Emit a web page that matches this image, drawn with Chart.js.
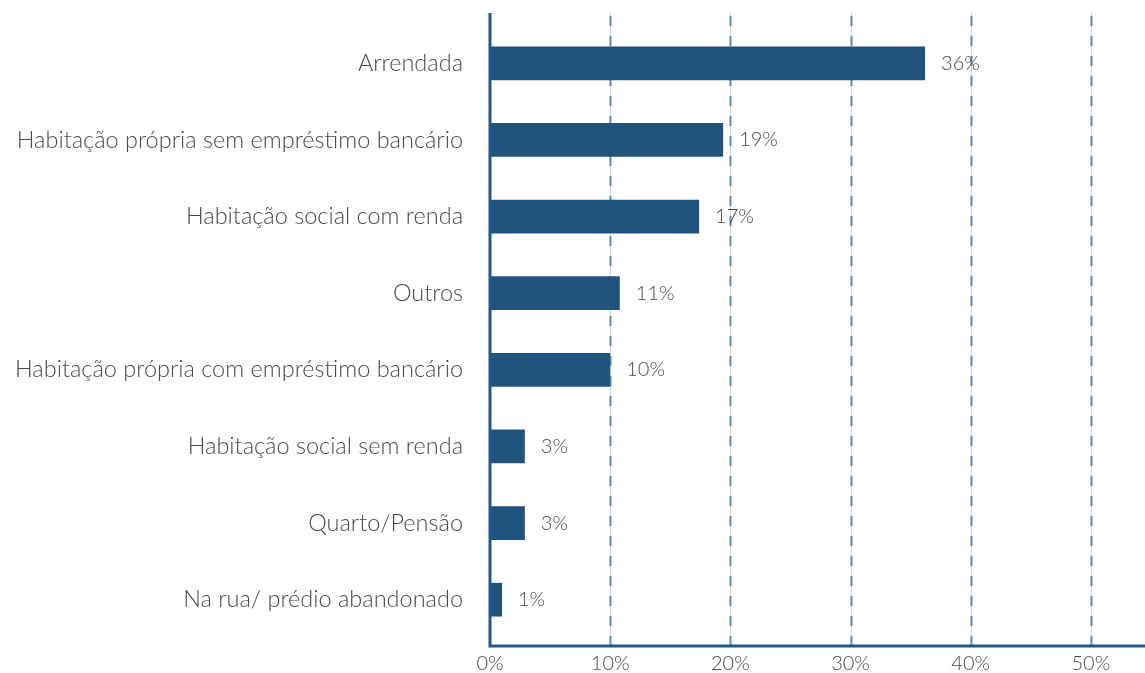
<!DOCTYPE html>
<html>
<head>
<meta charset="utf-8">
<script src="https://cdn.jsdelivr.net/npm/chart.js@4.4.0/dist/chart.umd.min.js"></script>
<style>
    html, body { margin: 0; padding: 0; background: #fff; }
    #wrap { width: 1145px; height: 673px; position: relative; }
</style>
</head>
<body>
<div id="wrap"><canvas id="chart"></canvas></div>
<script>
// Categories (top to bottom) and share of respondents, in %
const categories = [
    'Arrendada',
    'Habitação própria sem empréstimo bancário',
    'Habitação social com renda',
    'Outros',
    'Habitação própria com empréstimo bancário',
    'Habitação social sem renda',
    'Quarto/Pensão',
    'Na rua/ prédio abandonado'
];
const shares = [36.2, 19.4, 17.4, 10.8, 10.0, 2.9, 2.9, 1.0];
const xTicks = [0, 10, 20, 30, 40, 50];

const FONT = 'Lato, "Open Sans", sans-serif';
const BLUE = '#21537f';
const AXIS = '#24578a';
const TEXT = '#4a4a4a';

// dashed vertical grid + L-shaped axis, drawn a bit past the plot area like the original
const gridPlugin = {
    id: 'grid',
    beforeDatasetsDraw(chart) {
        const { ctx, chartArea, scales } = chart;
        const top = chartArea.top - 12;
        const bottom = chartArea.bottom + 8;
        ctx.save();
        xTicks.forEach(v => {
            if (v === 0) return;
            const x = Math.round(scales.x.getPixelForValue(v)) + 0.5;
            ctx.setLineDash([]);
            ctx.strokeStyle = '#c6d6e6';
            ctx.lineWidth = 1;
            ctx.beginPath();
            ctx.moveTo(x, top);
            ctx.lineTo(x, bottom);
            ctx.stroke();
            ctx.setLineDash([10, 10]);
            ctx.lineDashOffset = -3;
            ctx.strokeStyle = '#5f88b0';
            ctx.lineWidth = 2;
            ctx.beginPath();
            ctx.moveTo(x, top);
            ctx.lineTo(x, bottom);
            ctx.stroke();
        });
        ctx.restore();
    },
    afterDatasetsDraw(chart) {
        const { ctx, chartArea, scales } = chart;
        const x0 = scales.x.getPixelForValue(0);
        const bottom = chartArea.bottom + 8;
        ctx.save();
        ctx.strokeStyle = AXIS;
        ctx.lineWidth = 3;
        ctx.beginPath();
        ctx.moveTo(x0, chartArea.top - 12);
        ctx.lineTo(x0, bottom);
        ctx.lineTo(chart.width, bottom);
        ctx.stroke();

        // value labels next to the bars
        ctx.fillStyle = TEXT;
        ctx.font = '300 20px ' + FONT;
        ctx.textAlign = 'left';
        ctx.textBaseline = 'middle';
        chart.getDatasetMeta(0).data.forEach((bar, i) => {
            ctx.fillText(Math.round(shares[i]) + '%', bar.x + 16, bar.y);
        });
        ctx.restore();
    }
};

new Chart(document.getElementById('chart'), {
    type: 'bar',
    data: {
        labels: categories,
        datasets: [{
            data: shares,
            backgroundColor: BLUE,
            borderWidth: 0,
            categoryPercentage: 1,
            barPercentage: 0.44
        }]
    },
    options: {
        indexAxis: 'y',
        responsive: true,
        maintainAspectRatio: false,
        animation: false,
        layout: { padding: { top: 25, right: 0, bottom: 0, left: 0 } },
        plugins: {
            legend: { display: false },
            tooltip: { enabled: false }
        },
        scales: {
            x: {
                min: 0,
                max: 54.5,
                grid: { display: false, drawTicks: false },
                border: { display: false },
                afterBuildTicks: scale => {
                    scale.ticks = xTicks.map(v => ({ value: v }));
                },
                afterFit: scale => {
                    scale.height = 35;
                    scale.paddingRight = 0;
                },
                ticks: {
                    padding: 14,
                    color: TEXT,
                    font: { family: FONT, size: 20, weight: 300 },
                    maxRotation: 0,
                    callback: v => v + '%'
                }
            },
            y: {
                grid: { display: false, drawTicks: false },
                border: { display: false },
                afterFit: scale => {
                    scale.width = 490;
                    scale.paddingTop = 0;
                    scale.paddingBottom = 0;
                },
                ticks: {
                    padding: 27,
                    color: TEXT,
                    font: { family: FONT, size: 23.5, weight: 300 }
                }
            }
        }
    },
    plugins: [gridPlugin]
});
</script>
</body>
</html>
